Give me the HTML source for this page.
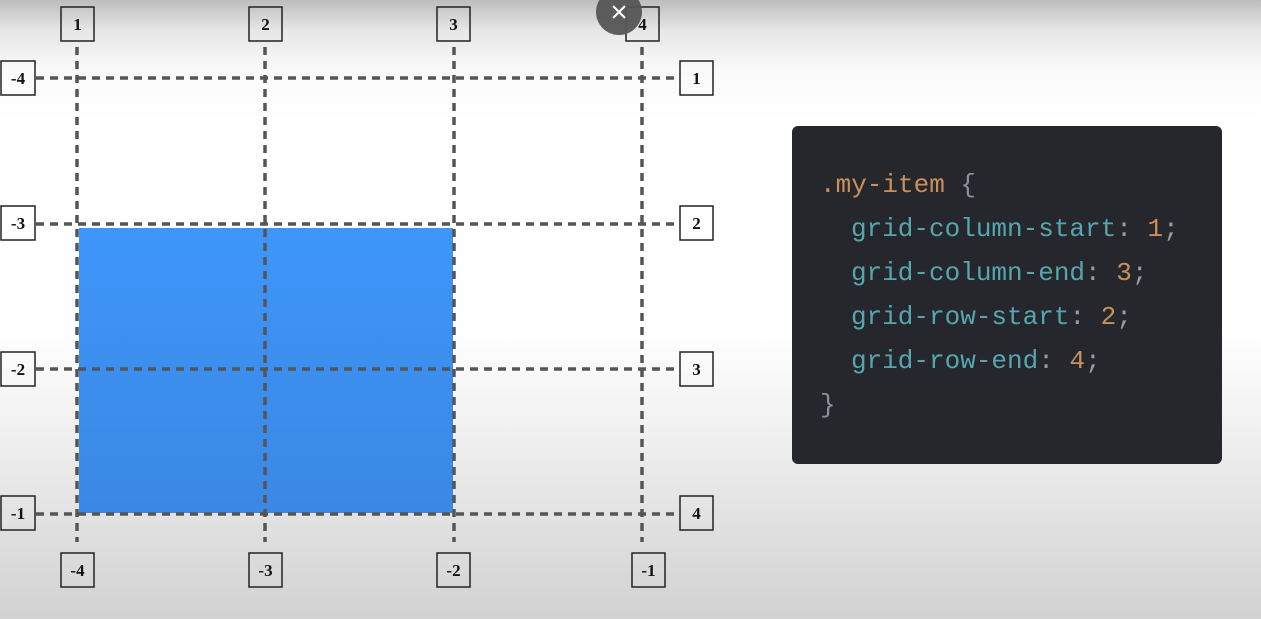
<!DOCTYPE html>
<html><head><style>
html,body{margin:0;padding:0;width:1261px;height:619px;overflow:hidden}
body{background:linear-gradient(#bdbdbd 0px,#e6e6e6 30px,#fafafa 70px,#ffffff 120px,#ffffff 330px,#f2f2f2 420px,#dedede 540px,#d2d2d2 619px)}
</style></head><body>
<svg width="1261" height="619" style="position:absolute;left:0;top:0" font-family="Liberation Serif, serif" font-weight="bold">
<defs><linearGradient id="b" x1="0" y1="0" x2="0" y2="1"><stop offset="0" stop-color="#3e96fa"/><stop offset="1" stop-color="#3a88e4"/></linearGradient></defs>
<rect x="79" y="228" width="374" height="285" fill="url(#b)"/>
<g stroke="#555" stroke-width="3.5" stroke-dasharray="8 6">
<line x1="77" y1="47" x2="77" y2="542"/><line x1="265" y1="47" x2="265" y2="542"/><line x1="454" y1="47" x2="454" y2="542"/><line x1="642" y1="47" x2="642" y2="542"/>
<line x1="36" y1="78" x2="678" y2="78"/><line x1="36" y1="224" x2="678" y2="224"/><line x1="36" y1="369" x2="678" y2="369"/><line x1="36" y1="514" x2="678" y2="514"/>
</g>
<g fill="none" stroke="#222" stroke-width="1.5">
<rect x="61" y="7" width="33" height="34"/><rect x="249" y="7" width="33" height="34"/><rect x="437" y="7" width="33" height="34"/><rect x="626" y="7" width="33" height="34"/>
<rect x="1" y="61" width="34" height="34"/><rect x="1" y="206" width="34" height="34"/><rect x="1" y="352" width="34" height="34"/><rect x="1" y="496" width="34" height="34"/>
<rect x="680" y="61" width="33" height="34"/><rect x="680" y="206" width="33" height="34"/><rect x="680" y="352" width="33" height="34"/><rect x="680" y="496" width="33" height="34"/>
<rect x="61" y="553" width="33" height="34"/><rect x="249" y="553" width="33" height="34"/><rect x="437" y="553" width="33" height="34"/><rect x="632" y="553" width="33" height="34"/>
</g>
<g font-size="17" fill="#111" text-anchor="middle">
<text x="77.5" y="30">1</text><text x="265.5" y="30">2</text><text x="453.5" y="30">3</text><text x="642.5" y="30">4</text>
<text x="18" y="84">-4</text><text x="18" y="229">-3</text><text x="18" y="375">-2</text><text x="18" y="519">-1</text>
<text x="696.5" y="84">1</text><text x="696.5" y="229">2</text><text x="696.5" y="375">3</text><text x="696.5" y="519">4</text>
<text x="77.5" y="576">-4</text><text x="265.5" y="576">-3</text><text x="453.5" y="576">-2</text><text x="648.5" y="576">-1</text>
</g>
<circle cx="619" cy="12" r="23" fill="#555" opacity="0.95"/>
<g stroke="#fff" stroke-width="2"><line x1="613" y1="6" x2="625" y2="18"/><line x1="625" y1="6" x2="613" y2="18"/></g>
<rect x="792" y="126" width="430" height="338" rx="6" fill="#25272c"/>
<g font-family="Liberation Mono, monospace" font-weight="normal" font-size="26">
<text x="820" y="192"><tspan fill="#c8915a">.my-item</tspan><tspan fill="#8d9096"> {</tspan></text>
<text x="851" y="236"><tspan fill="#56a6b0">grid-column-start</tspan><tspan fill="#9a9da2">: </tspan><tspan fill="#c8915a">1</tspan><tspan fill="#9a9da2">;</tspan></text>
<text x="851" y="280"><tspan fill="#56a6b0">grid-column-end</tspan><tspan fill="#9a9da2">: </tspan><tspan fill="#c8915a">3</tspan><tspan fill="#9a9da2">;</tspan></text>
<text x="851" y="324"><tspan fill="#56a6b0">grid-row-start</tspan><tspan fill="#9a9da2">: </tspan><tspan fill="#c8915a">2</tspan><tspan fill="#9a9da2">;</tspan></text>
<text x="851" y="368"><tspan fill="#56a6b0">grid-row-end</tspan><tspan fill="#9a9da2">: </tspan><tspan fill="#c8915a">4</tspan><tspan fill="#9a9da2">;</tspan></text>
<text x="820" y="412" fill="#8d9096">}</text>
</g>
</svg>
</body></html>
